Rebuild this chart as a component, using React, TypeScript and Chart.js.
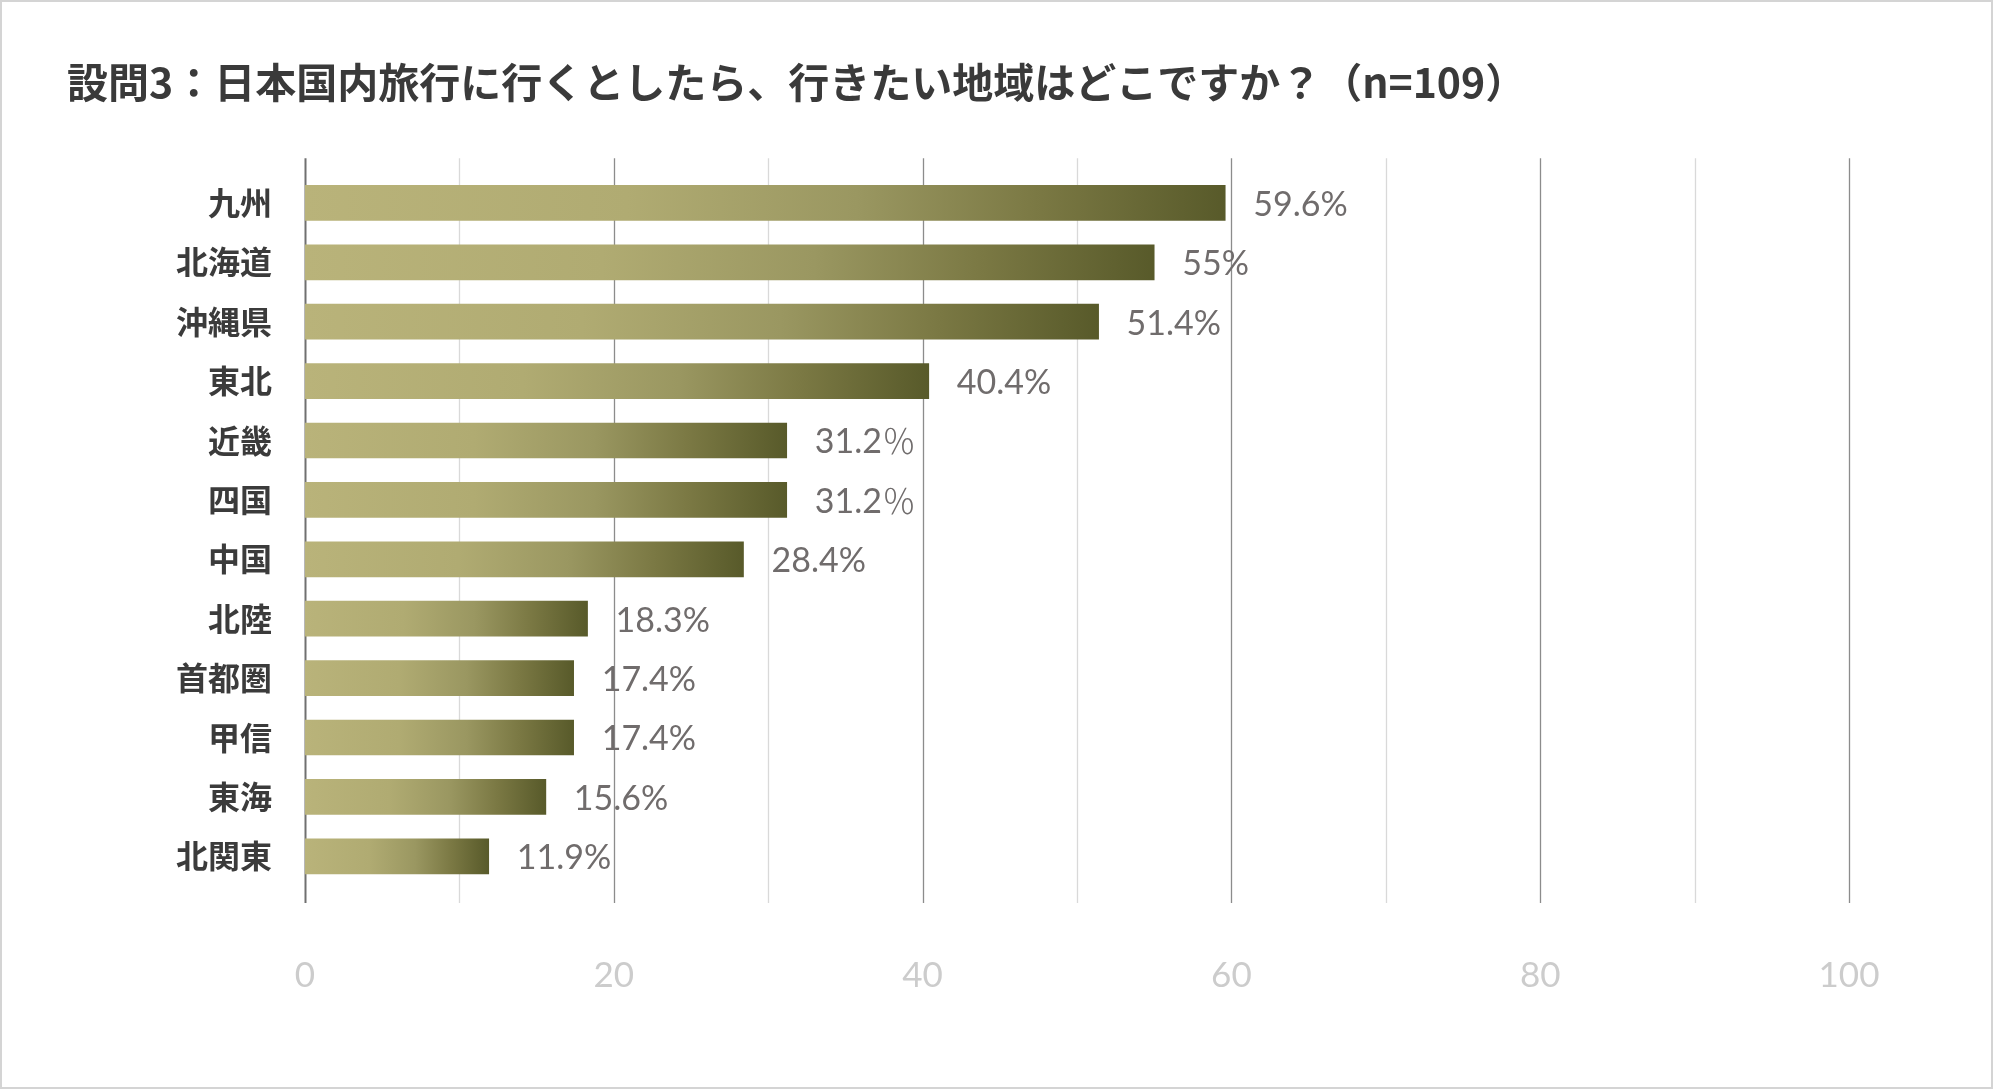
import React, { useEffect, useRef } from "react";
import { Chart, registerables } from "chart.js";

Chart.register(...registerables);

const TITLE = "設問3：日本国内旅行に行くとしたら、行きたい地域はどこですか？（n=109）";
const categories = ["九州", "北海道", "沖縄県", "東北", "近畿", "四国", "中国", "北陸", "首都圏", "甲信", "東海", "北関東"];
const values = [59.6, 55, 51.4, 40.4, 31.2, 31.2, 28.4, 18.3, 17.4, 17.4, 15.6, 11.9];
const valueLabels = ["59.6%", "55%", "51.4%", "40.4%", "31.2％", "31.2％", "28.4%", "18.3%", "17.4%", "17.4%", "15.6%", "11.9%"];
const xTicks = [0, 20, 40, 60, 80, 100];
const gridValues = [0, 10, 20, 30, 40, 50, 60, 70, 80, 90, 100];

const W = 1993;
const H = 1089;

const LATIN_FONT = "34px Lato, sans-serif";
const WIDE_FONT = "300 34px 'Noto Sans CJK JP', sans-serif";

const borderPlugin = {
  id: "frameBorder",
  beforeDraw(chart: any) {
    const ctx = chart.ctx;
    ctx.save();
    ctx.fillStyle = "#ffffff";
    ctx.fillRect(0, 0, chart.width, chart.height);
    ctx.strokeStyle = "#d4d4d4";
    ctx.lineWidth = 2;
    ctx.strokeRect(1, 1, chart.width - 2, chart.height - 2);
    ctx.restore();
  },
};

const gridPlugin = {
  id: "customGrid",
  beforeDatasetsDraw(chart: any) {
    const ctx = chart.ctx;
    const xs = chart.scales.x;
    const area = chart.chartArea;
    const top = area.top - 15;
    const bottom = area.bottom + 17;
    ctx.save();
    gridValues.forEach((v) => {
      const x = Math.round(xs.getPixelForValue(v)) + 0.5;
      ctx.beginPath();
      if (v === 0) {
        ctx.strokeStyle = "#707070";
        ctx.lineWidth = 2;
      } else if (v % 20 === 0) {
        ctx.strokeStyle = "#8c8c8c";
        ctx.lineWidth = 1.3;
      } else {
        ctx.strokeStyle = "#d9d9d9";
        ctx.lineWidth = 1.3;
      }
      ctx.moveTo(x, top);
      ctx.lineTo(x, bottom);
      ctx.stroke();
    });
    ctx.restore();
  },
};

const labelPlugin = {
  id: "valueLabels",
  afterDatasetsDraw(chart: any) {
    const ctx = chart.ctx;
    const meta = chart.getDatasetMeta(0);
    ctx.save();
    ctx.fillStyle = "#706c6c";
    ctx.textAlign = "left";
    ctx.textBaseline = "middle";
    meta.data.forEach((bar: any, i: number) => {
      let x = bar.x + 28;
      const y = bar.y + 2;
      for (const ch of valueLabels[i]) {
        const wide = ch.charCodeAt(0) >= 0xff00;
        ctx.font = wide ? WIDE_FONT : LATIN_FONT;
        ctx.fillText(ch, x, wide ? y - 1 : y);
        x += ctx.measureText(ch).width;
      }
    });
    ctx.restore();
  },
};

export default function App() {
  const canvasRef = useRef<HTMLCanvasElement | null>(null);

  useEffect(() => {
    const canvas = canvasRef.current;
    if (!canvas) return;
    const chart = new Chart(canvas, {
      type: "bar",
      data: {
        labels: categories,
        datasets: [
          {
            data: values,
            barThickness: 35,
            backgroundColor: (context: any) => {
              const c = context.chart;
              const xs = c.scales && c.scales.x;
              if (!c.chartArea || !xs) return "#a8a36c";
              const x0 = xs.getPixelForValue(0);
              const x1 = xs.getPixelForValue(values[context.dataIndex]);
              if (!isFinite(x0) || !isFinite(x1) || x1 <= x0) return "#a8a36c";
              const g = c.ctx.createLinearGradient(x0, 0, x1, 0);
              g.addColorStop(0, "#b9b37a");
              g.addColorStop(0.35, "#b0ab72");
              g.addColorStop(0.6, "#9a9761");
              g.addColorStop(0.8, "#7a7843");
              g.addColorStop(1, "#585a2a");
              return g;
            },
            borderWidth: 0,
          },
        ],
      },
      options: {
        indexAxis: "y",
        responsive: false,
        animation: false,
        devicePixelRatio: 1,
        layout: { padding: { left: 67, right: 144, top: 0, bottom: 23 } },
        plugins: {
          legend: { display: false },
          tooltip: { enabled: false },
          title: {
            display: true,
            text: TITLE,
            align: "start",
            color: "#3a3a3a",
            font: { family: "'Noto Sans CJK JP', sans-serif", size: 41, weight: "bold" },
            padding: { top: 58, bottom: 66 },
          },
        },
        scales: {
          x: {
            type: "linear",
            min: 0,
            max: 100,
            afterBuildTicks: (scale: any) => {
              scale.ticks = xTicks.map((v) => ({ value: v }));
            },
            grid: { display: false, drawTicks: false },
            border: { display: false },
            ticks: {
              color: "#cccccc",
              padding: 69,
              font: { family: "Lato, sans-serif", size: 35 },
            },
          },
          y: {
            type: "category",
            afterFit: (scale: any) => {
              scale.width = 238;
            },
            grid: { display: false, drawTicks: false },
            border: { display: false },
            ticks: {
              color: "#3b3b3b",
              padding: 33,
              font: { family: "'Noto Sans CJK JP', sans-serif", size: 32, weight: "bold" },
            },
          },
        },
      },
      plugins: [borderPlugin, gridPlugin, labelPlugin],
    } as any);
    return () => chart.destroy();
  }, []);

  return (
    <div style={{ position: "fixed", left: 0, top: 0, width: W, height: H, background: "#fff" }}>
      <canvas ref={canvasRef} width={W} height={H} style={{ display: "block", width: W, height: H }} />
    </div>
  );
}
